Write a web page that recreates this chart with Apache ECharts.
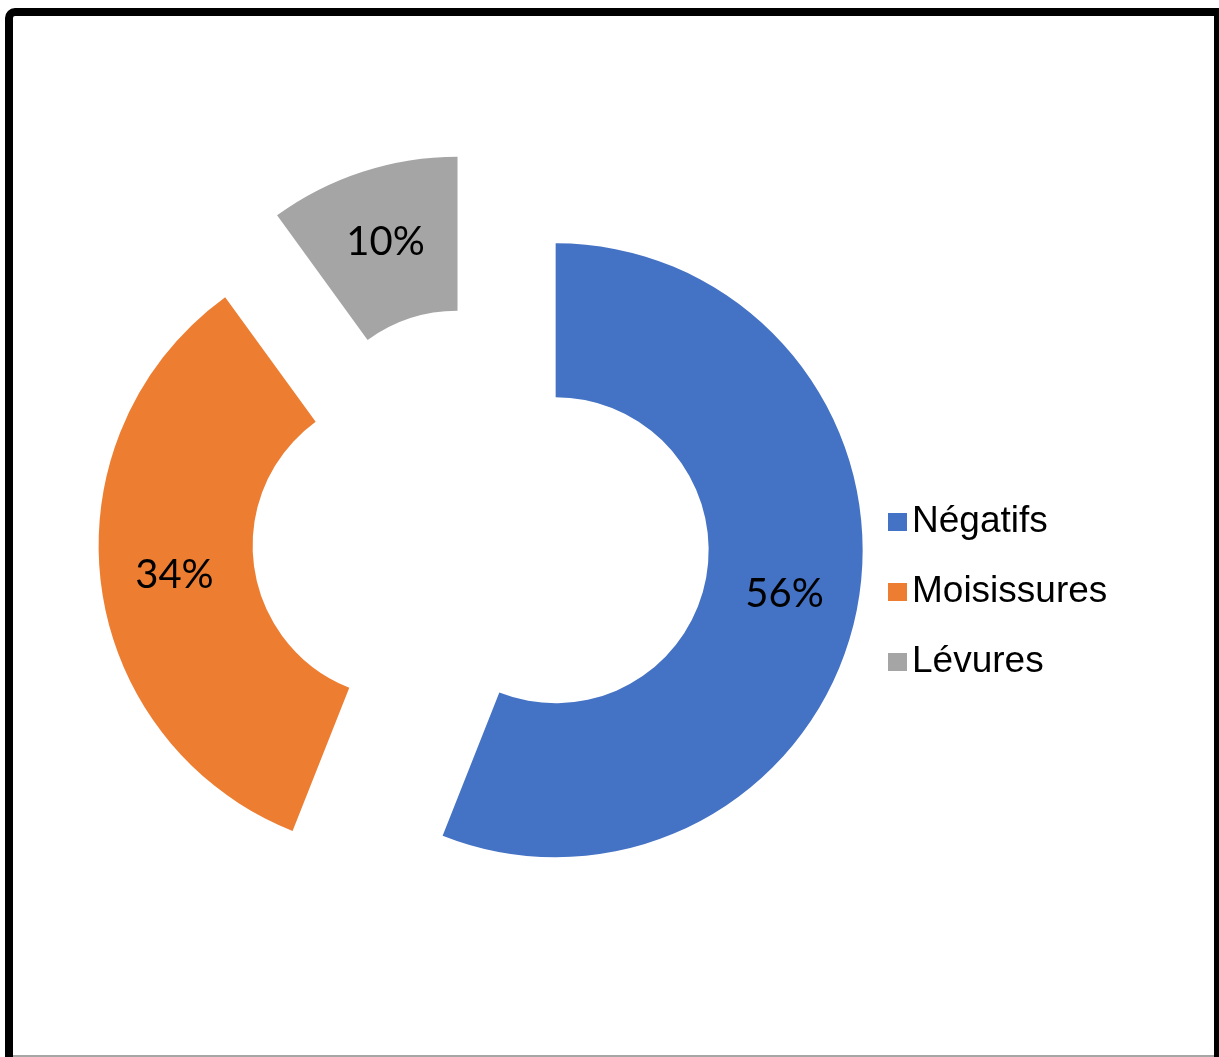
<!DOCTYPE html>
<html>
<head>
<meta charset="utf-8">
<script src="https://cdn.jsdelivr.net/npm/echarts@6/dist/echarts.min.js"></script>
<style>
  html, body { margin: 0; padding: 0; background: #fff; }
  #chart { width: 1219px; height: 1057px; }
</style>
</head>
<body>
<div id="chart"></div>
<script>
// Categories and shares (%)
const categories = ['Négatifs', 'Moisissures', 'Lévures'];
const shares = [56, 34, 10];
const colors = ['#4472C4', '#ED7D31', '#A5A5A5'];

const chart = echarts.init(document.getElementById('chart'), null, { renderer: 'canvas' });

const pieData = categories.map((name, i) => ({
  name: name,
  value: shares[i],
  selected: true,
  itemStyle: { color: colors[i] }
}));

chart.setOption({
  animation: false,
  backgroundColor: '#ffffff',
  graphic: [
    {
      type: 'rect',
      shape: { x: 9, y: 12, width: 1209, height: 1080, r: [6, 0, 0, 0] },
      style: { fill: 'none', stroke: '#000', lineWidth: 8 },
      silent: true
    },
    {
      type: 'rect',
      shape: { x: 13, y: 1055, width: 1201, height: 2 },
      style: { fill: '#a6a6a6' },
      silent: true
    }
  ],
  legend: {
    orient: 'vertical',
    left: 888,
    top: 502,
    padding: 0,
    icon: 'rect',
    itemWidth: 19,
    itemHeight: 18,
    itemGap: 30,
    itemTextGap: 11,
    selectedMode: false,
    data: categories,
    textStyle: {
      fontFamily: '"Liberation Sans", Arial, sans-serif',
      fontSize: 37,
      lineHeight: 40,
      color: '#000'
    }
  },
  series: [{
    type: 'pie',
    center: [481, 536],
    radius: [153, 307],
    startAngle: 90,
    clockwise: true,
    selectedMode: 'multiple',
    selectedOffset: 76,
    avoidLabelOverlap: false,
    emphasis: { disabled: true },
    label: {
      show: true,
      position: 'inside',
      formatter: '{c}%',
      fontFamily: 'Lato, "Open Sans", sans-serif',
      fontSize: 40,
      color: '#000'
    },
    labelLine: { show: false },
    data: pieData
  }]
});
</script>
</body>
</html>
